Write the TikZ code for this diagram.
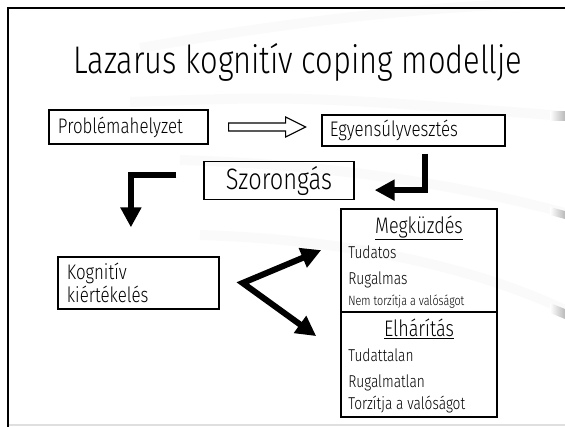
\documentclass[tikz,border=0pt]{standalone}
\usepackage{fontspec}
\setmainfont{Fira Sans}[UprightFont=* Light, FakeStretch=0.8]
\usetikzlibrary{arrows.meta}

\begin{document}
\begin{tikzpicture}[x=0.025cm, y=-0.025cm,
		box/.style={draw, rectangle, line width=0.9pt},
		bigarrow/.style={line width=4.3pt, -{Triangle[width=0.5cm,length=0.5cm]}},
		swoosh/.style={gray!4, line width=0.25cm},
		item/.style={anchor=base west, inner sep=0pt, font=\fontsize{12.2}{14}\selectfont}]
		\useasboundingbox (0,0) rectangle (565,427);

		% background of the slide
		\draw[swoosh] (140,48) .. controls (300,20) and (420,8) .. (520,4);
		\draw[swoosh] (130,102) .. controls (300,96) .. (565,116);
		\draw[swoosh] (180,160) .. controls (350,165) and (480,190) .. (565,213);
		\draw[swoosh] (200,235) .. controls (360,240) and (480,270) .. (565,310);
		\shade[left color=white, right color=gray!55] (550,111) rectangle (565,120);
		\shade[left color=white, right color=gray!55] (550,207) -- (565,211) -- (565,219) -- (550,215) -- cycle;
		\shade[left color=white, right color=gray!55] (550,303) -- (565,309) -- (565,319) -- (550,313) -- cycle;
		\draw[gray!25, line width=1pt] (8,425) -- (565,425);
		\draw[line width=2pt] (8,427) -- (8,8) -- (565,8);

		\node[anchor=base, inner sep=0pt, font=\fontsize{27.4}{30}\selectfont] (title) at (298,73) {Lazarus kognitív coping modellje};

		\node[box, minimum width=3.975cm, minimum height=0.85cm, inner xsep=0.225cm, text width=3.525cm, align=left, font=\fontsize{15}{18}\selectfont] (prob) at (128.5,127) {Problémahelyzet};
		\node[box, minimum width=4.575cm, minimum height=0.775cm, inner xsep=0.2cm, text width=4.175cm, align=left, font=\fontsize{15}{18}\selectfont] (egy) at (413.5,130.5) {Egyensúlyvesztés};
		\node[box, minimum width=3.75cm, minimum height=0.925cm, font=\fontsize{21}{24}\selectfont] (szor) at (279,180.5) {Szorongás};
		\node[box, minimum width=4.025cm, minimum height=1.3cm, inner xsep=0.225cm, text width=3.575cm, align=left, font=\fontsize{15}{16.4}\selectfont] (kog) at (138.5,283) {Kognitív\\kiértékelés};

		\node[box, line width=1.1pt, minimum width=3.9cm, minimum height=2.575cm] (meg) at (419,260.5) {};
		\node[box, line width=1.1pt, minimum width=3.9cm, minimum height=2.625cm] (elh) at (419,364.5) {};
		\node[anchor=base, inner sep=0pt, font=\fontsize{16}{18}\selectfont] (megh) at (419,233) {\underline{Megküzdés}};
		\node[item] (tud) at (348,258) {Tudatos};
		\node[item] (rug) at (348,284) {Rugalmas};
		\node[item, font=\fontsize{9.6}{11}\selectfont] (nemt) at (348,305) {Nem torzítja a valóságot};
		\node[anchor=base, inner sep=0pt, font=\fontsize{16}{18}\selectfont] (elhh) at (419,336) {\underline{Elhárítás}};
		\node[item] (tudt) at (348,361) {Tudattalan};
		\node[item] (rugt) at (348,387) {Rugalmatlan};
		\node[item] (torz) at (348,409) {Torzítja a valóságot};

		% arrows
		\draw[line width=0.8pt, line join=miter] ([xshift=0.5cm]prob.east) ++(0,-4) -- ++(57,0) -- ++(0,-6) -- ++(20,10) -- ++(-20,10) -- ++(0,-6) -- ++(-57,0) -- cycle;
		\draw[bigarrow, line join=miter, shorten <=0.675cm, shorten >=0.725cm] ([yshift=0.14cm]szor.west) -| ([xshift=-0.19cm]kog.north);
		\draw[bigarrow, line join=miter, shorten <=0.175cm, shorten >=0.5cm] ([xshift=0.29cm]egy.south) |- ([yshift=-0.24cm]szor.east);
		\coordinate (v) at ([xshift=0.575cm]kog.east);
		\draw[line width=4.3pt, line join=miter, {Triangle[width=0.5cm,length=0.5cm]}-{Triangle[width=0.5cm,length=0.5cm]}] ([xshift=-0.475cm, yshift=0.26cm]meg.west) -- (v) -- ([xshift=-0.6cm, yshift=0.71cm]elh.west);

	\end{tikzpicture}
\end{document}
